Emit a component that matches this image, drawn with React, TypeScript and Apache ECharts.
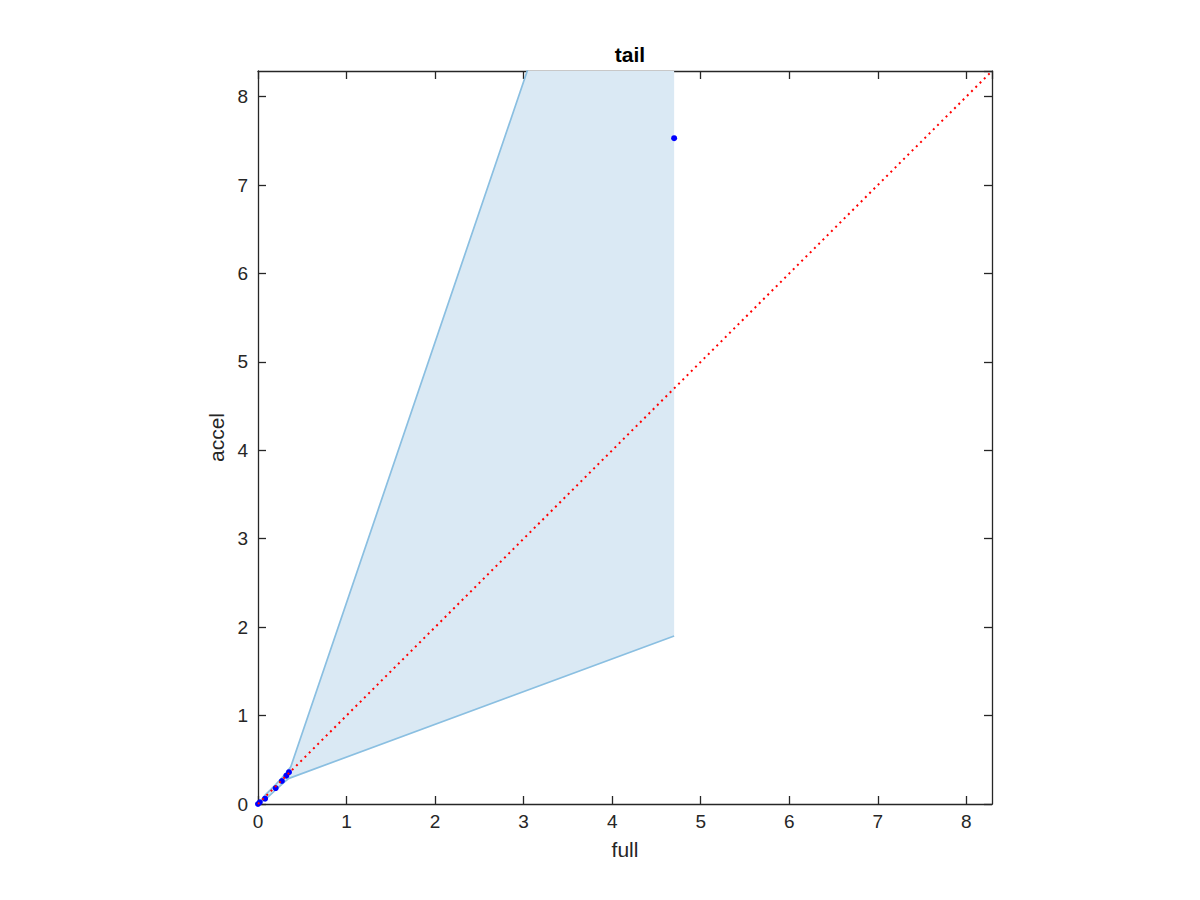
import React, { useEffect, useRef } from "react";
import * as echarts from "echarts";

const axisMax = 8.29;
const tickInterval = 1;

// Confidence band boundaries
const upperX = [0, 0.08, 0.2, 0.3, 0.37, 4.7];
const upperY = [0, 0.1, 0.22, 0.33, 0.42, 13.18];
const lowerX = [0, 0.08, 0.2, 0.3, 0.35, 4.7];
const lowerY = [0, 0.05, 0.16, 0.25, 0.29, 1.9];

// Observed points (full vs accel)
const pointX = [0, 0.02, 0.08, 0.2, 0.27, 0.32, 0.35, 4.7];
const pointY = [0, 0.02, 0.06, 0.18, 0.26, 0.32, 0.36, 7.53];

// Reference line y = x
const refLine = [0, axisMax];

const FONT = "Liberation Sans, Arial, Helvetica, sans-serif";
const AX = "#262626";

export default function App() {
  const ref = useRef<HTMLDivElement>(null);
  useEffect(() => {
    if (!ref.current) return;
    const chart = echarts.init(ref.current, undefined, { renderer: "svg" });
    const baseAxis = {
      type: "value" as const,
      min: 0,
      max: axisMax,
      interval: tickInterval,
      splitLine: { show: false },
      axisLine: { show: true, onZero: false, lineStyle: { color: AX, width: 1.3 } },
      axisTick: { show: true, inside: true, length: 8, lineStyle: { color: AX, width: 1.3 } },
    };
    const labelStyle = { color: AX, fontSize: 19, fontFamily: FONT, showMaxLabel: false };
    chart.setOption({
      animation: false,
      backgroundColor: "#ffffff",
      title: {
        text: "tail",
        left: 625,
        textAlign: "center",
        top: 39,
        textStyle: { fontSize: 21, fontWeight: "bold", color: "#000", fontFamily: FONT },
      },
      grid: { left: 258, right: 208, top: 71, bottom: 96, containLabel: false },
      xAxis: [
        {
          ...baseAxis,
          position: "bottom",
          name: "full",
          nameLocation: "middle",
          nameGap: 35,
          nameTextStyle: { color: AX, fontSize: 21, fontFamily: FONT },
          axisLabel: { ...labelStyle, margin: 8 },
        },
        { ...baseAxis, position: "top", axisLabel: { show: false } },
      ],
      yAxis: [
        {
          ...baseAxis,
          position: "left",
          name: "accel",
          nameLocation: "middle",
          nameGap: 28,
          nameTextStyle: { color: AX, fontSize: 21, fontFamily: FONT },
          axisLabel: { ...labelStyle, margin: 10 },
        },
        { ...baseAxis, position: "right", axisLabel: { show: false } },
      ],
      series: [
        {
          type: "custom",
          clip: true,
          z: 1,
          data: [[0, 0]],
          renderItem: (_params: any, api: any) => {
            const pts: number[][] = [];
            upperX.forEach((x, i) => pts.push(api.coord([x, upperY[i]])));
            for (let i = lowerX.length - 1; i >= 0; i--) pts.push(api.coord([lowerX[i], lowerY[i]]));
            return { type: "polygon", shape: { points: pts }, style: { fill: "#dae9f4", stroke: "none" } };
          },
        },
        {
          type: "line",
          z: 2,
          clip: true,
          symbol: "none",
          data: upperX.map((x, i) => [x, upperY[i]]),
          lineStyle: { color: "#8abfe1", width: 1.7 },
        },
        {
          type: "line",
          z: 2,
          clip: true,
          symbol: "none",
          data: lowerX.map((x, i) => [x, lowerY[i]]),
          lineStyle: { color: "#8abfe1", width: 1.7 },
        },
        {
          type: "scatter",
          z: 3,
          symbol: "circle",
          symbolSize: 6,
          itemStyle: { color: "#0000ff", opacity: 1 },
          data: pointX.map((x, i) => [x, pointY[i]]),
        },
        {
          type: "line",
          z: 4,
          symbol: "none",
          data: refLine.map((v) => [v, v]),
          lineStyle: { color: "#ff0000", width: 2, type: [2, 4] },
        },
      ],
    });
    return () => chart.dispose();
  }, []);
  return <div ref={ref} style={{ width: 1200, height: 900, position: "absolute", left: 0, top: 0 }} />;
}
